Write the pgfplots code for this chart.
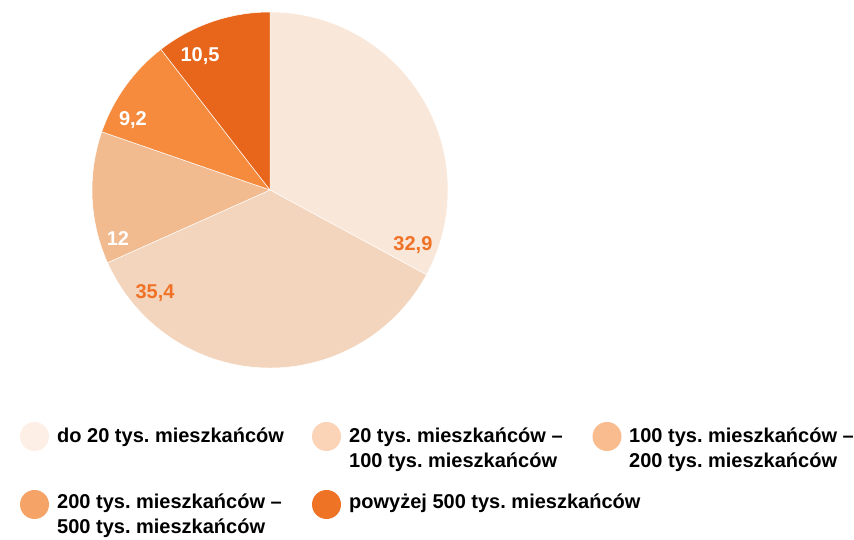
\documentclass[border=0pt]{standalone}
\usepackage{pgfplots}
\pgfplotsset{compat=1.18}
\usepackage{fontspec}
\setmainfont{Liberation Sans}
\frenchspacing
\definecolor{sA}{HTML}{F9E7D9}
\definecolor{sB}{HTML}{F3D5BD}
\definecolor{sC}{HTML}{F1BA8F}
\definecolor{sD}{HTML}{F68B3E}
\definecolor{sE}{HTML}{E8661C}
\definecolor{lA}{HTML}{FDEFE5}
\definecolor{lB}{HTML}{FBD4B8}
\definecolor{lC}{HTML}{F9BC8E}
\definecolor{lD}{HTML}{F5A366}
\definecolor{lE}{HTML}{EE7325}
\definecolor{lab}{HTML}{F07227}
\begin{document}
\begin{tikzpicture}[x=1pt,y=1pt]
\useasboundingbox (0,0) rectangle (854,540);
\begin{axis}[hide axis, x=178pt, y=178pt, xmin=-1, xmax=1, ymin=-1, ymax=1,
  anchor=center, at={(270pt,350pt)}, clip=false, scale only axis]
% values: 32.9, 35.4, 12, 9.2, 10.5 (clockwise from top)
\fill[sA, draw=white, line width=0.5pt] (axis cs:0,0) -- (axis cs:0,1) arc[start angle=90, end angle={90-3.6*32.9}, radius=178pt] -- cycle;
\fill[sB, draw=white, line width=0.5pt] (axis cs:0,0) -- (axis cs:{cos(90-3.6*32.9)},{sin(90-3.6*32.9)}) arc[start angle={90-3.6*32.9}, end angle={90-3.6*(32.9+35.4)}, radius=178pt] -- cycle;
\fill[sC, draw=white, line width=0.5pt] (axis cs:0,0) -- (axis cs:{cos(90-3.6*68.3)},{sin(90-3.6*68.3)}) arc[start angle={90-3.6*68.3}, end angle={90-3.6*(68.3+12)}, radius=178pt] -- cycle;
\fill[sD, draw=white, line width=0.5pt] (axis cs:0,0) -- (axis cs:{cos(90-3.6*80.3)},{sin(90-3.6*80.3)}) arc[start angle={90-3.6*80.3}, end angle={90-3.6*(80.3+9.2)}, radius=178pt] -- cycle;
\fill[sE, draw=white, line width=0.5pt] (axis cs:0,0) -- (axis cs:{cos(90-3.6*89.5)},{sin(90-3.6*89.5)}) arc[start angle={90-3.6*89.5}, end angle={90-3.6*(89.5+10.5)}, radius=178pt] -- cycle;
\node[text=lab, font=\fontsize{20}{24}\selectfont\bfseries] at (axis cs:0.803,-0.312) {32,9};
\node[text=lab, font=\fontsize{20}{24}\selectfont\bfseries] at (axis cs:-0.646,-0.579) {35,4};
\node[text=white, font=\fontsize{20}{24}\selectfont\bfseries] at (axis cs:-0.854,-0.275) {12};
\node[text=white, font=\fontsize{20}{24}\selectfont\bfseries] at (axis cs:-0.770,0.393) {9,2};
\node[text=white, font=\fontsize{20}{24}\selectfont\bfseries] at (axis cs:-0.393,0.753) {10,5};
\end{axis}
% legend
\tikzset{lt/.style={anchor=base west, inner sep=0pt, font=\fontsize{20}{25}\selectfont\bfseries}}
\fill[lA] (34.5,103.5) circle (14.5);
\node[lt] at (57,97) {do 20 tys. mieszkańców};
\fill[lB] (326.5,103.5) circle (14.5);
\node[lt] at (349,97) {20 tys. mieszkańców –};
\node[lt] at (349,72) {100 tys. mieszkańców};
\fill[lC] (607,103.5) circle (14.5);
\node[lt] at (629,97) {100 tys. mieszkańców –};
\node[lt] at (629,72) {200 tys. mieszkańców};
\fill[lD] (34.5,35.5) circle (14.5);
\node[lt] at (57,31) {200 tys. mieszkańców –};
\node[lt] at (57,6) {500 tys. mieszkańców};
\fill[lE] (326.5,35.5) circle (14.5);
\node[lt] at (349,31) {powyżej 500 tys. mieszkańców};
\end{tikzpicture}
\end{document}
